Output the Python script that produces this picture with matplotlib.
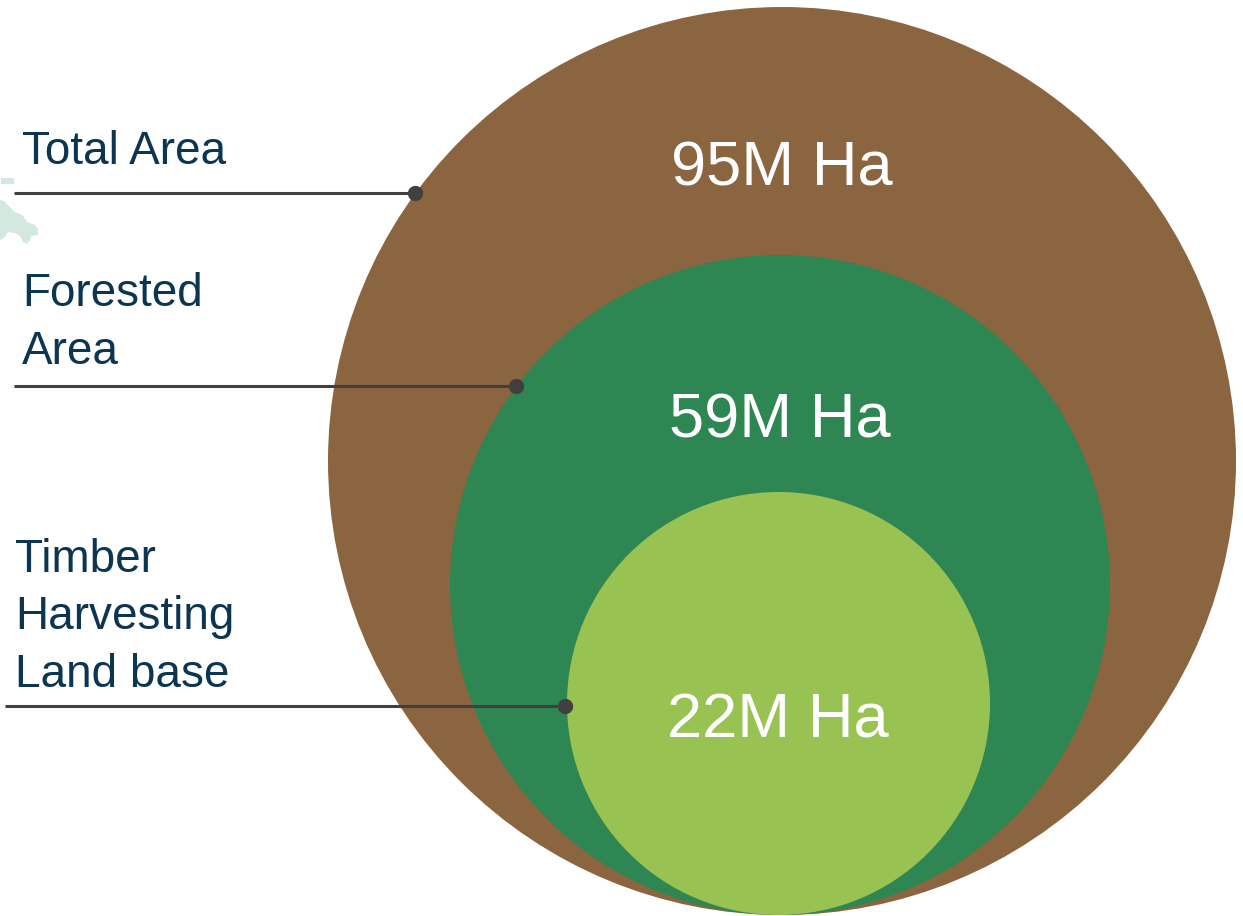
import matplotlib
matplotlib.use("Agg")
import matplotlib.pyplot as plt
from matplotlib.patches import Circle, Polygon

# ---- data ----
categories = ["Total Area", "Forested\nArea", "Timber\nHarvesting\nLand base"]
values_mha = [95, 59, 22]
value_labels = [f"{v}M Ha" for v in values_mha]

# ---- geometry (pixel space of a 1243x916 canvas) ----
W, H = 1243, 916
circle_centers = [(782, 461), (780, 585), (778.5, 703.5)]
circle_radii = [454, 330, 211.5]
circle_colors = ["#8B653F", "#2E8652", "#98C353"]
value_label_pos = [(782, 185), (780, 438), (778, 737)]
leader_y = [193, 386, 706]
leader_x0 = [14, 14, 5]
leader_x1 = [415, 516, 565]
cat_text_pos = [(22, 164), (22, 364), (15, 687)]

text_color = "#0B3550"
line_color = "#404040"

fig = plt.figure(figsize=(W / 100, H / 100), dpi=100)
ax = fig.add_axes([0, 0, 1, 1])
ax.set_xlim(0, W)
ax.set_ylim(H, 0)
ax.set_aspect("equal")
ax.axis("off")

# stray mint artefact at left edge
ax.add_patch(Polygon([(1, 178), (14, 178), (14, 184), (1, 184)], closed=True,
                     facecolor="#D3E8DF", edgecolor="none"))
ax.add_patch(Polygon([(0, 200), (4, 201), (8, 205), (11, 208), (14, 212), (20, 214),
                      (24, 217), (27, 222), (35, 225), (38, 229), (38, 235), (31, 236),
                      (30, 240), (27, 244), (23, 242), (20, 236), (15, 233), (8, 232),
                      (4, 238), (0, 240)], closed=True,
                     facecolor="#D3E8DF", edgecolor="none"))

for (cx, cy), r, c in zip(circle_centers, circle_radii, circle_colors):
    ax.add_patch(Circle((cx, cy), r, facecolor=c, edgecolor="none"))

for lbl, (x, y) in zip(value_labels, value_label_pos):
    ax.text(x, y, lbl, color="white", fontsize=45.5, family="Liberation Sans",
            ha="center", va="baseline")

for cat, (x, y), ly, x0, x1 in zip(categories, cat_text_pos, leader_y, leader_x0, leader_x1):
    ax.text(x, y, cat, color=text_color, fontsize=33, family="Liberation Sans",
            ha="left", va="baseline", linespacing=1.4)
    ax.plot([x0, x1], [ly, ly], color=line_color, lw=2.2, solid_capstyle="butt")
    ax.plot([x1], [ly], "o", color=line_color, ms=10)

fig.savefig("out.png", dpi=100)
